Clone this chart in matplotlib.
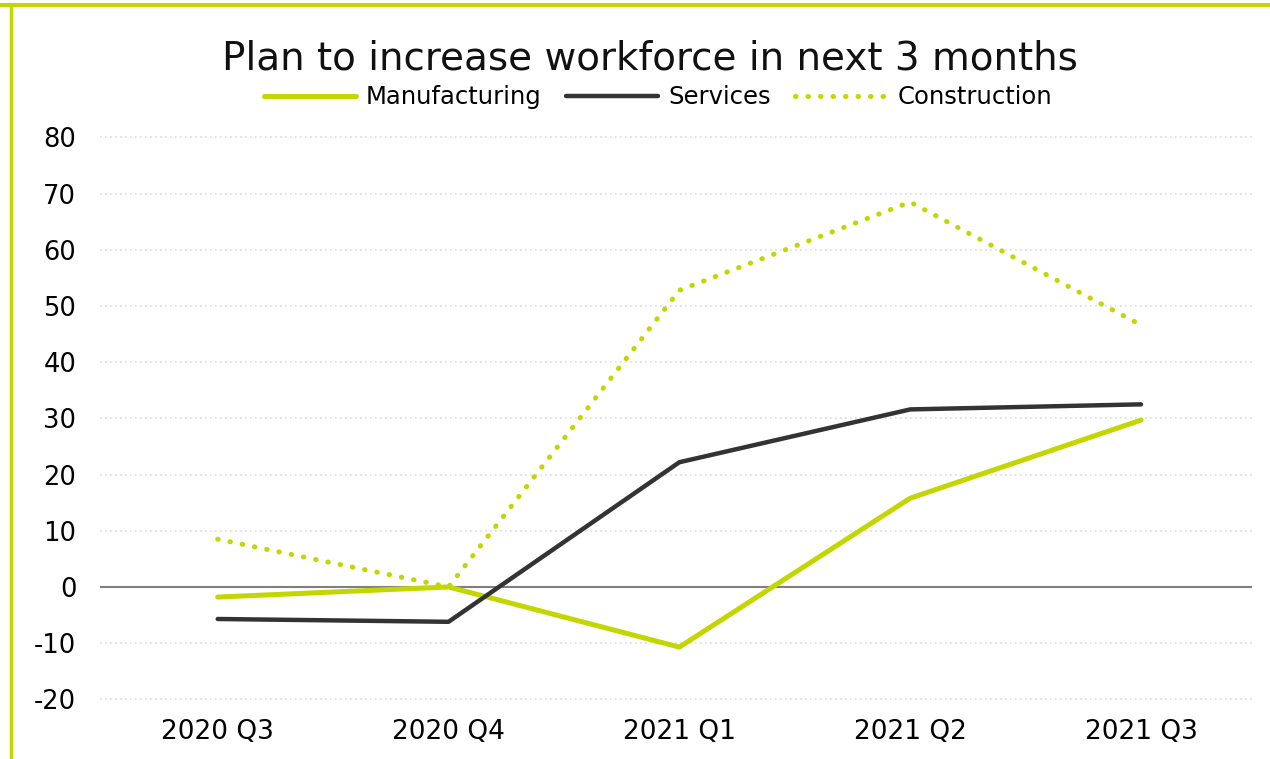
import matplotlib.pyplot as plt
from matplotlib.lines import Line2D

quarters = ["2020 Q3", "2020 Q4", "2021 Q1", "2021 Q2", "2021 Q3"]
manufacturing = [-1.8, 0, -10.7, 15.8, 29.7]
services = [-5.7, -6.2, 22.2, 31.6, 32.5]
construction = [8.5, 0, 52.8, 68.5, 46.6]
yticks = [-20, -10, 0, 10, 20, 30, 40, 50, 60, 70, 80]

green = "#c3d600"
dark = "#333333"

plt.rcParams['font.family'] = ['DejaVu Sans']

fig = plt.figure(figsize=(12.7, 7.59), dpi=100)
ax = fig.add_axes([0.0787, 0.0638, 0.907, 0.7847])

x = range(len(quarters))
ax.plot(x, manufacturing, color=green, lw=3.6, label="Manufacturing", solid_capstyle='round', zorder=3)
ax.plot(x, services, color=dark, lw=3.2, label="Services", solid_capstyle='round', zorder=3)
ax.plot(x, construction, color=green, lw=3.6, ls=(0, (0.1, 2.4)), dash_capstyle='round',
        label="Construction", zorder=3)

# grid lines and zero line
for y in yticks:
    if y == 0:
        ax.axhline(0, color="#7f7f7f", lw=1.5, zorder=2)
    else:
        ax.axhline(y, color="#dddddd", lw=1.2, ls=(0, (1, 2)), zorder=1)

ax.set_xlim(-0.51, 4.48)
ax.set_ylim(-22, 84)
ax.set_xticks(list(x))
ax.set_xticklabels(quarters, fontsize=19)
ax.set_yticks(yticks)
ax.set_yticklabels([str(v) for v in yticks], fontsize=18.5)
ax.tick_params(length=0, pad=6)
ax.tick_params(axis='y', pad=17)
for s in ax.spines.values():
    s.set_visible(False)

fig.text(0.512, 0.923, "Plan to increase workforce in next 3 months", ha='center', va='center',
         fontsize=28, color="#111111")
fig.legend(loc='center', bbox_to_anchor=(0.518, 0.872), ncol=3, frameon=False, fontsize=17.5,
           handlelength=3.8, columnspacing=1.0, handletextpad=0.4)

# green frame on top and left
fig.add_artist(Line2D([0, 1], [0.9935, 0.9935], color=green, lw=3, transform=fig.transFigure))
fig.add_artist(Line2D([0.0083, 0.0083], [0, 0.9935], color=green, lw=2.5, transform=fig.transFigure))

fig.savefig("out.png", dpi=100, facecolor="white")
